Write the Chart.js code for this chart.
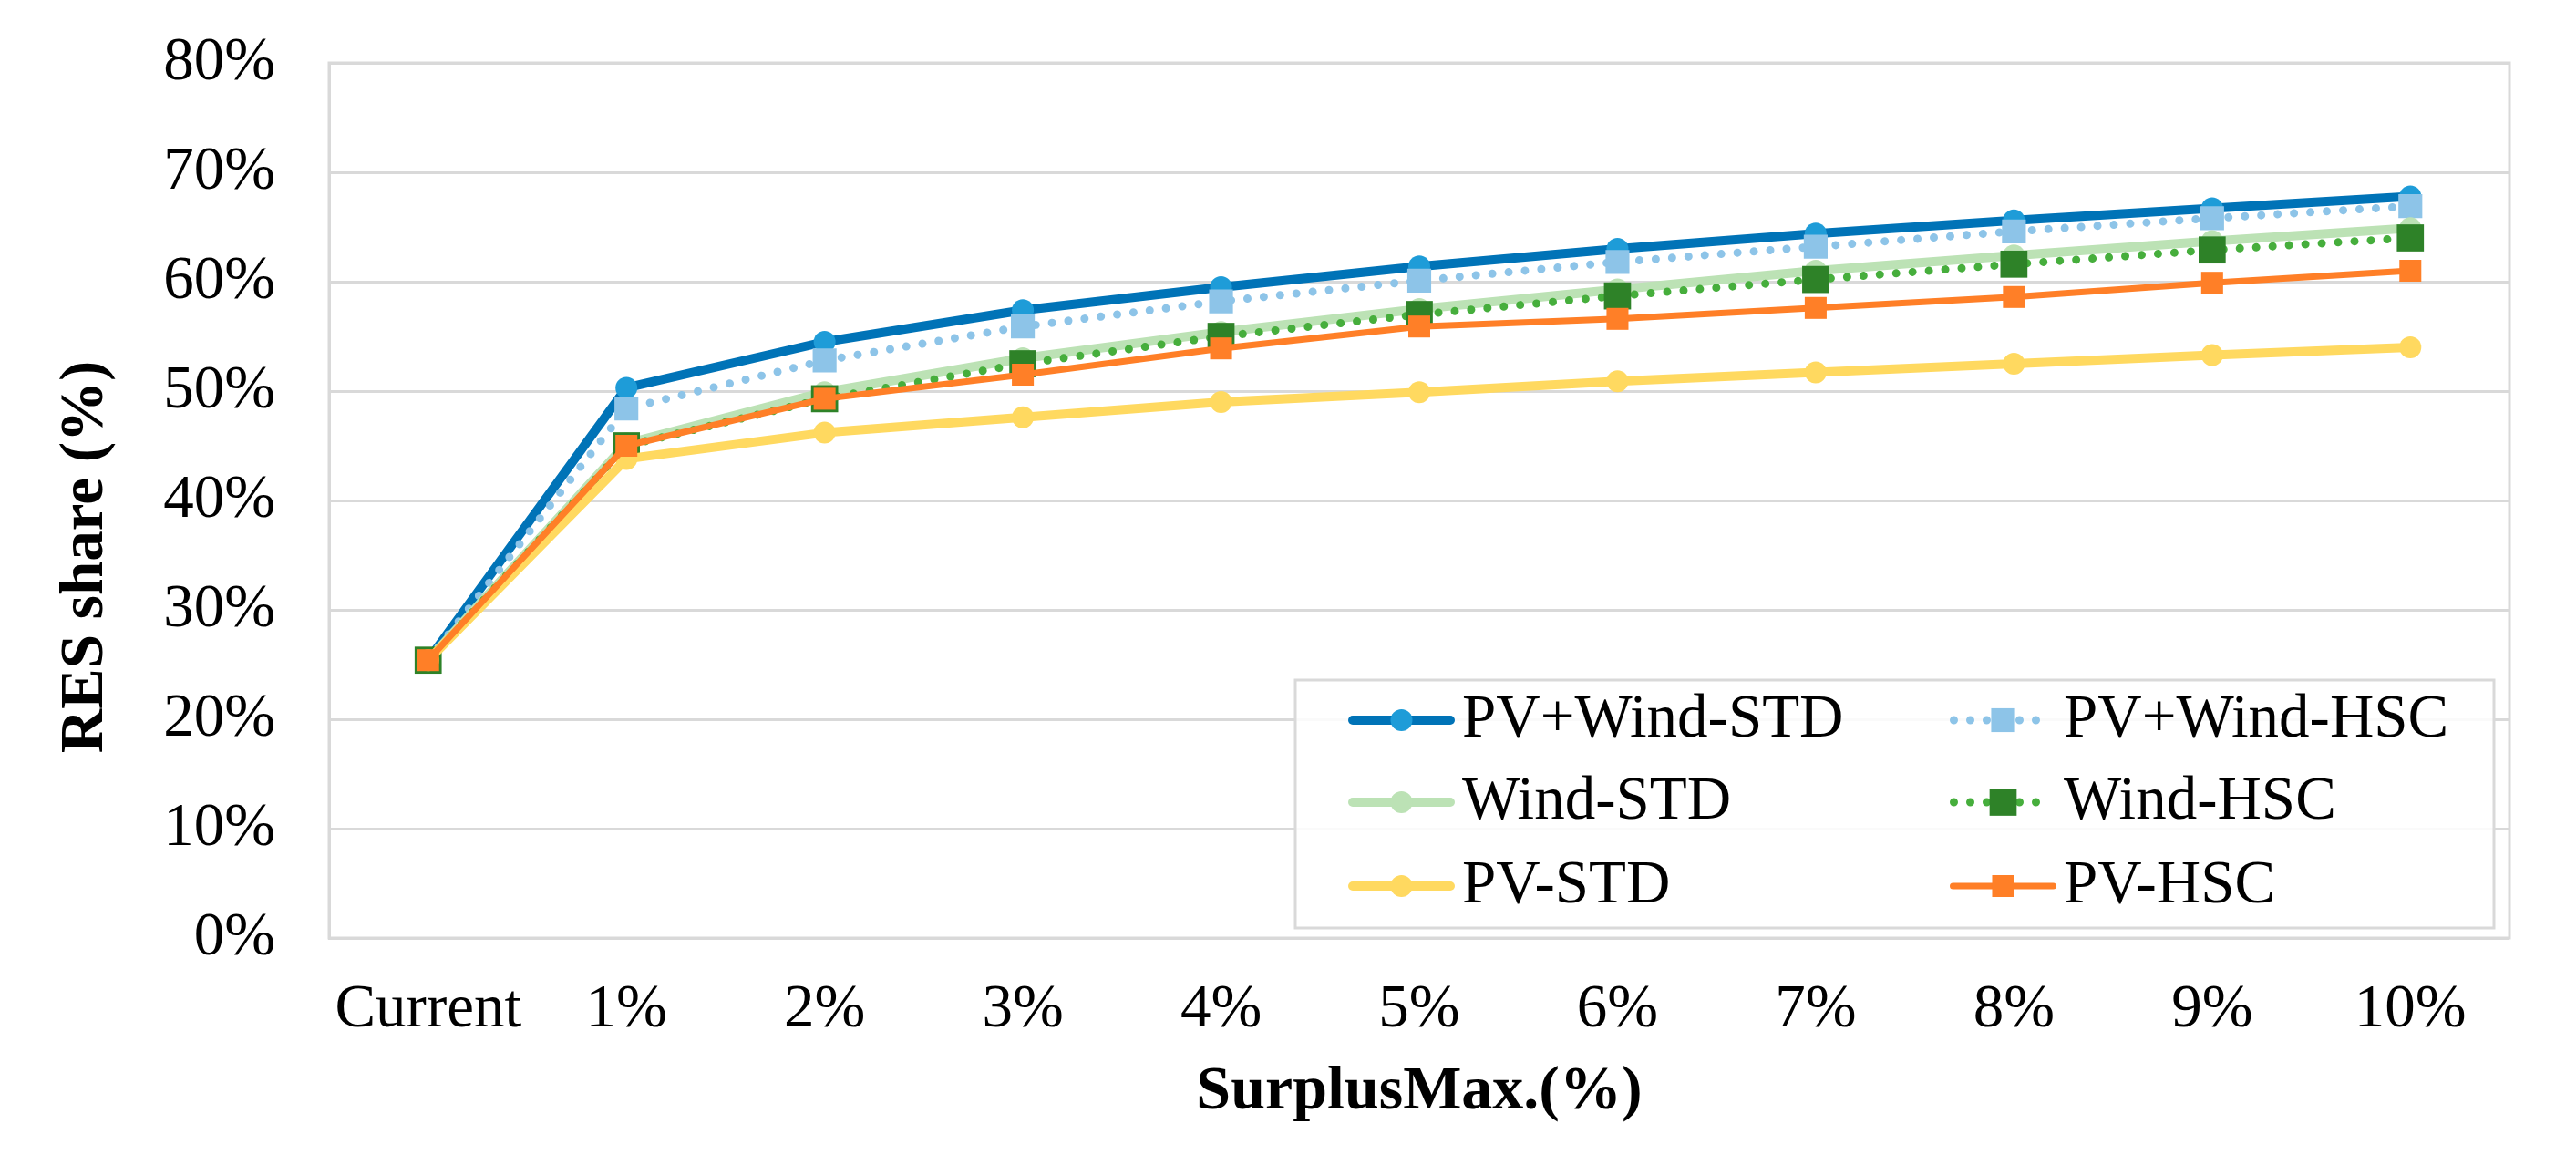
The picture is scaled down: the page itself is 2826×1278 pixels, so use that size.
<!DOCTYPE html>
<html lang="en">
<head>
    <meta charset="UTF-8">
    <title>RES share vs SurplusMax</title>
    <script src="https://cdn.jsdelivr.net/npm/chart.js"></script>
    <style>
        body { margin: 0; background-color: white; }
        #wrap { width: 2826px; height: 1278px; position: relative; }
    </style>
</head>
<body>
<div id="wrap"><canvas id="res-chart"></canvas></div>
<script>
    // 横轴类别
    const categories = ['Current', '1%', '2%', '3%', '4%', '5%', '6%', '7%', '8%', '9%', '10%'];

    // 各方案的 RES 占比 (%)
    const pvWindStd = [25.4, 50.3, 54.5, 57.4, 59.5, 61.4, 63.0, 64.4, 65.6, 66.7, 67.8];
    const pvWindHsc = [25.4, 48.4, 52.8, 55.9, 58.2, 60.1, 61.8, 63.2, 64.6, 65.8, 66.9];
    const windStd   = [25.4, 45.2, 49.9, 53.0, 55.4, 57.5, 59.3, 61.0, 62.4, 63.7, 64.9];
    const windHsc   = [25.4, 45.0, 49.3, 52.5, 55.0, 57.0, 58.7, 60.2, 61.6, 62.9, 64.0];
    const pvStd     = [25.4, 43.8, 46.2, 47.6, 49.0, 49.9, 50.9, 51.7, 52.5, 53.3, 54.0];
    const pvHsc     = [25.4, 45.0, 49.3, 51.5, 53.9, 55.9, 56.6, 57.6, 58.6, 59.9, 61.0];

    const yTicks = [0, 10, 20, 30, 40, 50, 60, 70, 80];

    const FONT = '"Liberation Serif", "Times New Roman", serif';
    const GRID = '#D9D9D9';
    const dots = [0.001, 18]; // 圆点虚线

    const datasets = [
        { label: 'PV+Wind-STD', data: pvWindStd, borderColor: '#0073B7', borderWidth: 10,
          pointStyle: 'circle', pointRadius: 12, pointBackgroundColor: '#1E9CD8' },
        { label: 'PV+Wind-HSC', data: pvWindHsc, borderColor: '#8DC4E8', borderWidth: 9, borderDash: dots,
          pointStyle: 'rect', pointRadius: 18.5, pointBackgroundColor: '#8DC4E8' },
        { label: 'Wind-STD', data: windStd, borderColor: '#BCE2B5', borderWidth: 10,
          pointStyle: 'circle', pointRadius: 12, pointBackgroundColor: '#BCE2B5' },
        { label: 'Wind-HSC', data: windHsc, borderColor: '#46AE3C', borderWidth: 9, borderDash: dots,
          pointStyle: 'rect', pointRadius: 21, pointBackgroundColor: '#2E8228' },
        { label: 'PV-STD', data: pvStd, borderColor: '#FFD960', borderWidth: 10,
          pointStyle: 'circle', pointRadius: 12, pointBackgroundColor: '#FFD960' },
        { label: 'PV-HSC', data: pvHsc, borderColor: '#FF7F27', borderWidth: 7,
          pointStyle: 'rect', pointRadius: 17, pointBackgroundColor: '#FF7F27' }
    ].map(function(d, i, arr) {
        return Object.assign({
            fill: false,
            tension: 0,
            borderCapStyle: 'round',
            borderJoinStyle: 'round',
            pointBorderWidth: 0,
            pointHoverRadius: 0,
            order: arr.length - 1 - i // 先画第一条，最后一条在最上层
        }, d);
    });

    // 图例 + 纵轴标题 + 绘图区边框 (自绘)
    const customDecor = {
        id: 'customDecor',
        beforeDatasetsDraw(chart) {
            const { ctx, chartArea: a } = chart;
            ctx.save();
            ctx.strokeStyle = GRID;
            ctx.lineWidth = 3;
            ctx.strokeRect(a.left, a.top, a.right - a.left, a.bottom - a.top);
            ctx.restore();
        },
        afterDraw(chart) {
            const { ctx, chartArea: a } = chart;
            ctx.save();

            // 纵轴标题
            ctx.translate(95, 611);
            ctx.rotate(-Math.PI / 2);
            ctx.font = 'bold 67px ' + FONT;
            ctx.fillStyle = '#000';
            ctx.textAlign = 'center';
            ctx.textBaseline = 'middle';
            ctx.fillText('RES share (%)', 0, 0);
            ctx.restore();

            // 图例框
            const boxW = 1315, boxH = 272;
            const bx = a.right - 17 - boxW;
            const by = a.bottom - 11 - boxH;
            ctx.save();
            ctx.fillStyle = 'rgba(255,255,255,0.85)';
            ctx.fillRect(bx, by, boxW, boxH);
            ctx.strokeStyle = GRID;
            ctx.lineWidth = 3;
            ctx.strokeRect(bx, by, boxW, boxH);

            const colX = [58, 718];
            const rowY = [44, 134, 226];
            chart.data.datasets.forEach(function(ds, i) {
                const x0 = bx + colX[i % 2];
                const y = by + rowY[Math.floor(i / 2)];
                const x1 = x0 + 117;
                ctx.beginPath();
                ctx.setLineDash(ds.borderDash || []);
                ctx.lineCap = 'round';
                ctx.strokeStyle = ds.borderColor;
                ctx.lineWidth = ds.borderWidth;
                ctx.moveTo(x0 + ds.borderWidth / 2, y);
                ctx.lineTo(x1 - ds.borderWidth / 2, y);
                ctx.stroke();
                ctx.setLineDash([]);
                ctx.fillStyle = ds.pointBackgroundColor;
                ctx.strokeStyle = ds.pointBackgroundColor;
                Chart.helpers.drawPoint(ctx, {
                    pointStyle: ds.pointStyle, radius: ds.pointRadius, rotation: 0, borderWidth: 0
                }, (x0 + x1) / 2, y);
                ctx.fillStyle = '#000';
                ctx.font = '67px ' + FONT;
                ctx.textAlign = 'left';
                ctx.textBaseline = 'middle';
                ctx.fillText(ds.label, x1 + 8, y);
            });
            ctx.restore();
        }
    };

    const ctx = document.getElementById('res-chart').getContext('2d');
    new Chart(ctx, {
        type: 'line',
        data: { labels: categories, datasets: datasets },
        options: {
            responsive: true,
            maintainAspectRatio: false,
            animation: false,
            devicePixelRatio: 1,
            layout: { padding: { top: 69, right: 73, bottom: 0, left: 0 } },
            plugins: {
                legend: { display: false },
                tooltip: { enabled: false }
            },
            scales: {
                x: {
                    offset: true,
                    grid: { display: false, drawTicks: false },
                    border: { display: false },
                    ticks: { color: '#000', font: { family: FONT, size: 67 }, padding: 39, maxRotation: 0, autoSkip: false },
                    title: {
                        display: true, text: 'SurplusMax.(%)', color: '#000',
                        font: { family: FONT, size: 68, weight: 'bold' },
                        padding: { top: 0, bottom: 39 }
                    },
                    afterFit(scale) { scale.height = 249; }
                },
                y: {
                    min: 0,
                    max: 80,
                    afterBuildTicks(scale) { scale.ticks = yTicks.map(v => ({ value: v })); },
                    grid: { color: GRID, lineWidth: 3, drawTicks: false },
                    border: { color: GRID, width: 3 },
                    ticks: {
                        color: '#000', font: { family: FONT, size: 67 }, padding: 59,
                        callback: function(value) { return value + '%'; }
                    },
                    afterFit(scale) {
                        scale.width = 361;
                        // 不让刻度标签撑大上下边距
                        scale.paddingTop = 0;
                        scale.paddingBottom = 0;
                    }
                }
            }
        },
        plugins: [customDecor]
    });
</script>
</body>
</html>
